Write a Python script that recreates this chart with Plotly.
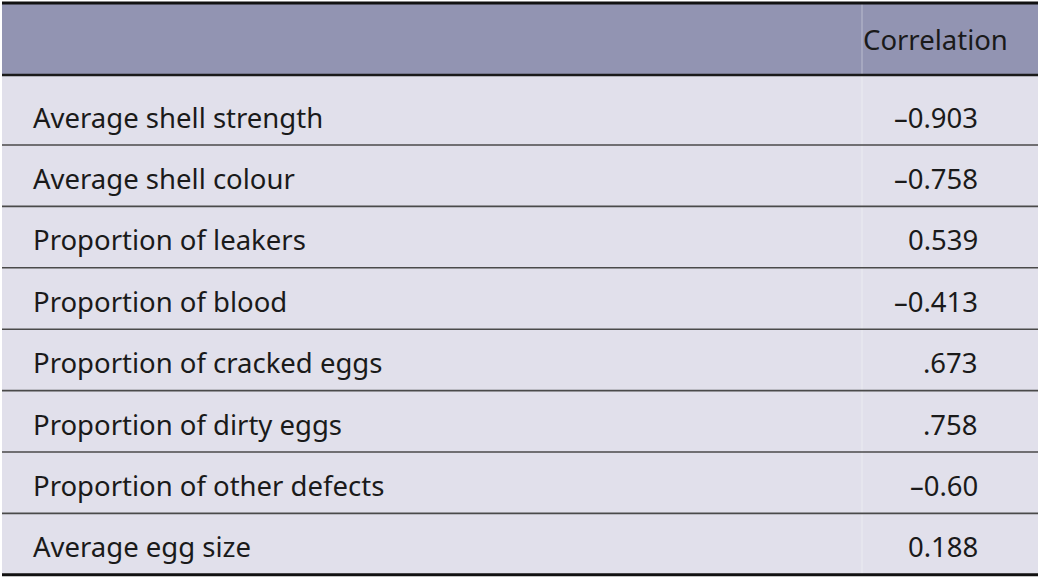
import plotly.graph_objects as go

# ---- data ----
header_value = "Correlation"
row_labels = [
    "Average shell strength",
    "Average shell colour",
    "Proportion of leakers",
    "Proportion of blood",
    "Proportion of cracked eggs",
    "Proportion of dirty eggs",
    "Proportion of other defects",
    "Average egg size",
]
row_values = ["\u20130.903", "\u20130.758", "0.539", "\u20130.413", ".673", ".758", "\u20130.60", "0.188"]

# ---- layout constants ----
W, H = 1042, 580
LEFT, RIGHT = 2, 1038
TOP = 3
HEAD_BOTTOM = 75
FIRST_ROW_BOTTOM = 145
PITCH = 61.4
DIVIDER_X = 862
LABEL_X = 31
VALUE_X = 980
TEXT_UP = 28
HEADER_FILL = "#9294B2"
BODY_FILL = "#E1E0EB"
FONT = "Noto Sans"
FS = 27.5

n = len(row_labels)
row_bottoms = [FIRST_ROW_BOTTOM + i * PITCH for i in range(n)]
BOTTOM = row_bottoms[-1]

shapes = []
shapes.append(dict(type="rect", x0=LEFT, x1=RIGHT, y0=TOP, y1=HEAD_BOTTOM,
                   fillcolor=HEADER_FILL, line=dict(width=0), layer="below"))
shapes.append(dict(type="rect", x0=LEFT, x1=RIGHT, y0=HEAD_BOTTOM, y1=BOTTOM,
                   fillcolor=BODY_FILL, line=dict(width=0), layer="below"))
shapes.append(dict(type="line", x0=DIVIDER_X, x1=DIVIDER_X, y0=TOP, y1=BOTTOM,
                   line=dict(color="rgba(255,255,255,0.25)", width=1.5)))
for yb in row_bottoms[:-1]:
    shapes.append(dict(type="line", x0=LEFT, x1=RIGHT, y0=yb, y1=yb,
                       line=dict(color="#4a4a4a", width=1.6)))
shapes.append(dict(type="line", x0=LEFT, x1=RIGHT, y0=HEAD_BOTTOM, y1=HEAD_BOTTOM,
                   line=dict(color="#1a1a1a", width=2.4)))
shapes.append(dict(type="line", x0=LEFT, x1=RIGHT, y0=TOP, y1=TOP,
                   line=dict(color="#111111", width=3)))
shapes.append(dict(type="line", x0=LEFT, x1=RIGHT, y0=BOTTOM, y1=BOTTOM,
                   line=dict(color="#111111", width=3)))

annotations = []
annotations.append(dict(x=1010, y=39, text=header_value, xanchor="right", yanchor="middle",
                        showarrow=False, font=dict(family=FONT, size=FS, color="#1a1a1a")))
for lab, val, yb in zip(row_labels, row_values, row_bottoms):
    yc = yb - TEXT_UP
    annotations.append(dict(x=LABEL_X, y=yc, text=lab, xanchor="left", yanchor="middle",
                            showarrow=False, font=dict(family=FONT, size=FS, color="#1a1a1a")))
    annotations.append(dict(x=VALUE_X, y=yc, text=val, xanchor="right", yanchor="middle",
                            showarrow=False, font=dict(family=FONT, size=FS, color="#1a1a1a")))

fig = go.Figure()
fig.update_layout(
    width=W, height=H,
    margin=dict(l=0, r=0, t=0, b=0),
    paper_bgcolor="white", plot_bgcolor="white",
    xaxis=dict(range=[0, W], visible=False, fixedrange=True),
    yaxis=dict(range=[H, 0], visible=False, fixedrange=True),
    shapes=shapes, annotations=annotations,
    showlegend=False,
)
fig.write_html("out.html", config={"displayModeBar": False},
               post_script="document.body.style.margin='0';document.body.style.overflow='hidden';")
